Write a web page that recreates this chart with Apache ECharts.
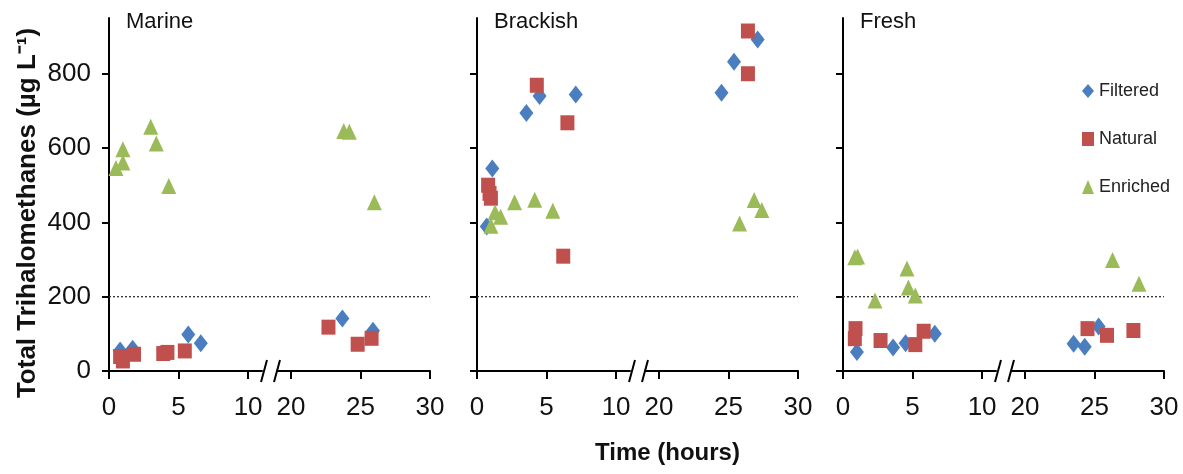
<!DOCTYPE html>
<html>
<head>
<meta charset="utf-8">
<script src="https://cdn.jsdelivr.net/npm/echarts@6/dist/echarts.min.js"></script>
<style>
  html, body { margin: 0; padding: 0; background: #fff; }
  #chart { width: 1183px; height: 474px; }
</style>
</head>
<body>
<div id="chart"></div>
<script>
  // points are [time (hours), total THM (ug/L)]
  const panelNames = ['Marine', 'Brackish', 'Fresh'];

  const marineFiltered = [[0.8, 55], [1.7, 60], [5.7, 98], [6.6, 75], [23.7, 141], [25.9, 108]];
  const marineNatural = [[0.8, 39], [1.0, 27], [1.8, 45], [3.9, 47], [4.2, 50], [5.45, 54], [22.7, 118], [24.8, 72], [25.8, 88]];
  const marineEnriched = [[0.5, 546], [1.0, 597], [1.0, 561], [3.0, 657], [3.4, 612], [4.3, 498], [23.8, 646], [24.2, 644], [26.0, 454]];

  const brackishFiltered = [[0.7, 389], [1.1, 545], [3.55, 694], [4.5, 740], [7.1, 744], [24.5, 749], [25.4, 832], [27.1, 892]];
  const brackishNatural = [[0.8, 500], [0.9, 478], [1.0, 465], [4.3, 769], [6.2, 309], [6.5, 668], [26.4, 915], [26.4, 800]];
  const brackishEnriched = [[1.0, 391], [1.3, 427], [1.7, 415], [2.7, 454], [4.15, 461], [5.45, 431], [25.8, 397], [26.85, 460], [27.4, 433]];

  const freshFiltered = [[1.0, 51], [3.6, 63], [4.5, 75], [6.6, 100], [23.5, 73], [24.3, 65], [25.3, 120]];
  const freshNatural = [[0.9, 114], [0.85, 87], [2.7, 82], [5.2, 71], [5.8, 107], [24.5, 114], [25.9, 96], [27.8, 109]];
  const freshEnriched = [[0.85, 306], [1.05, 308], [2.3, 190], [4.6, 276], [4.7, 225], [5.2, 203], [26.3, 299], [28.2, 235]];

  const threshold = 200;
  const xTicksLeft = [0, 5, 10];
  const xTicksRight = [20, 25, 30];
  const yTicks = [0, 200, 400, 600, 800];

  const panelData = [
    [marineFiltered, marineNatural, marineEnriched],
    [brackishFiltered, brackishNatural, brackishEnriched],
    [freshFiltered, freshNatural, freshEnriched]
  ];
  const kinds = [
    { name: 'Filtered', symbol: 'diamond', size: [14, 18], color: '#4a7ebf' },
    { name: 'Natural', symbol: 'rect', size: [14, 15], color: '#c0504d' },
    { name: 'Enriched', symbol: 'triangle', size: [15, 16], color: '#9bbb59' }
  ];

  // layout
  const axisX = [109, 477, 843];
  const segW = 153, gapW = 15, gridTop = 18, gridH = 353;
  const yMax = 950;
  const textFont = "'Liberation Sans', Arial, sans-serif";

  const grid = [], xAxis = [], yAxis = [], series = [], graphic = [];

  function xAxisFor(gi, min, max, ticks) {
    return {
      gridIndex: gi, type: 'value', min: min, max: max,
      axisLine: { show: true, onZero: false, lineStyle: { color: '#000', width: 2 } },
      axisTick: { show: true, customValues: ticks, length: 8, lineStyle: { color: '#000', width: 2 } },
      axisLabel: { customValues: ticks, fontSize: 26, fontFamily: textFont, color: '#111', margin: 24 },
      splitLine: { show: false }
    };
  }

  panelNames.forEach(function (name, p) {
    const x0 = axisX[p];
    const gL = p * 3, gR = p * 3 + 1, gT = p * 3 + 2;
    grid.push({ left: x0, top: gridTop, width: segW, height: gridH });
    grid.push({ left: x0 + segW + gapW, top: gridTop, width: segW, height: gridH });
    grid.push({ left: x0, top: gridTop, width: segW * 2 + gapW, height: gridH });

    xAxis.push(xAxisFor(gL, 0, 11, xTicksLeft));
    xAxis.push(xAxisFor(gR, 19, 30, xTicksRight));
    xAxis.push({ gridIndex: gT, type: 'value', min: 0, max: 1, show: false });

    // only the first panel carries y tick labels
    yAxis.push({
      gridIndex: gL, type: 'value', min: 0, max: yMax,
      axisLine: { show: true, lineStyle: { color: '#000', width: 2 } },
      axisTick: { show: true, customValues: yTicks, length: 7, lineStyle: { color: '#000', width: 2 } },
      axisLabel: { show: p === 0, customValues: yTicks, fontSize: 26, fontFamily: textFont, color: '#111', margin: 18 },
      splitLine: { show: false }
    });
    yAxis.push({ gridIndex: gR, type: 'value', min: 0, max: yMax, show: false });
    yAxis.push({ gridIndex: gT, type: 'value', min: 0, max: yMax, show: false });

    // dotted guideline at 200
    series.push({
      name: name + ' limit', type: 'line', xAxisIndex: gT, yAxisIndex: gT,
      data: [[0, threshold], [1, threshold]], symbol: 'none', silent: true, z: 1,
      lineStyle: { color: '#333', width: 1.3, type: [2, 2] }
    });

    kinds.forEach(function (k, i) {
      const pts = panelData[p][i];
      [[gL, pts.filter(d => d[0] < 15)], [gR, pts.filter(d => d[0] >= 15)]].forEach(function (s) {
        series.push({
          name: k.name, type: 'scatter', xAxisIndex: s[0], yAxisIndex: s[0],
          data: s[1], symbol: k.symbol, symbolSize: k.size, z: 3 + i,
          itemStyle: { color: k.color, opacity: 1 }
        });
      });
    });

    // axis break marks
    const yb = gridTop + gridH;
    [x0 + segW + 2, x0 + segW + gapW].forEach(function (cx) {
      graphic.push({
        type: 'line', silent: true,
        shape: { x1: cx - 3, y1: yb + 11, x2: cx + 3, y2: yb - 11 },
        style: { stroke: '#000', lineWidth: 2 }
      });
    });
  });

  graphic.push({
    type: 'text', x: 28, y: 213, rotation: Math.PI / 2,
    style: {
      text: 'Total Trihalomethanes (µg L⁻¹)',
      font: 'bold 26px ' + textFont, fill: '#111',
      align: 'center', verticalAlign: 'middle',
      textAlign: 'center', textVerticalAlign: 'middle'
    }
  });

  const title = panelNames.map(function (n, p) {
    return {
      text: n, left: axisX[p] + 17, top: 11, padding: 0,
      textStyle: { fontSize: 22, fontWeight: 'normal', color: '#111', fontFamily: textFont }
    };
  });
  title.push({
    text: 'Time (hours)', left: 595, top: 441, padding: 0,
    textStyle: { fontSize: 24, fontWeight: 'bold', color: '#111', fontFamily: textFont }
  });

  const chart = echarts.init(document.getElementById('chart'));
  chart.setOption({
    animation: false,
    backgroundColor: '#fff',
    title: title,
    legend: {
      data: kinds.map(k => ({ name: k.name, icon: k.symbol, itemStyle: { color: k.color } })),
      orient: 'vertical', left: 1077, top: 76,
      itemWidth: 12, itemHeight: 14, itemGap: 28,
      textStyle: { fontSize: 18, color: '#222', fontFamily: textFont, lineHeight: 20 }
    },
    grid: grid,
    xAxis: xAxis,
    yAxis: yAxis,
    series: series,
    graphic: graphic
  });
</script>
</body>
</html>
